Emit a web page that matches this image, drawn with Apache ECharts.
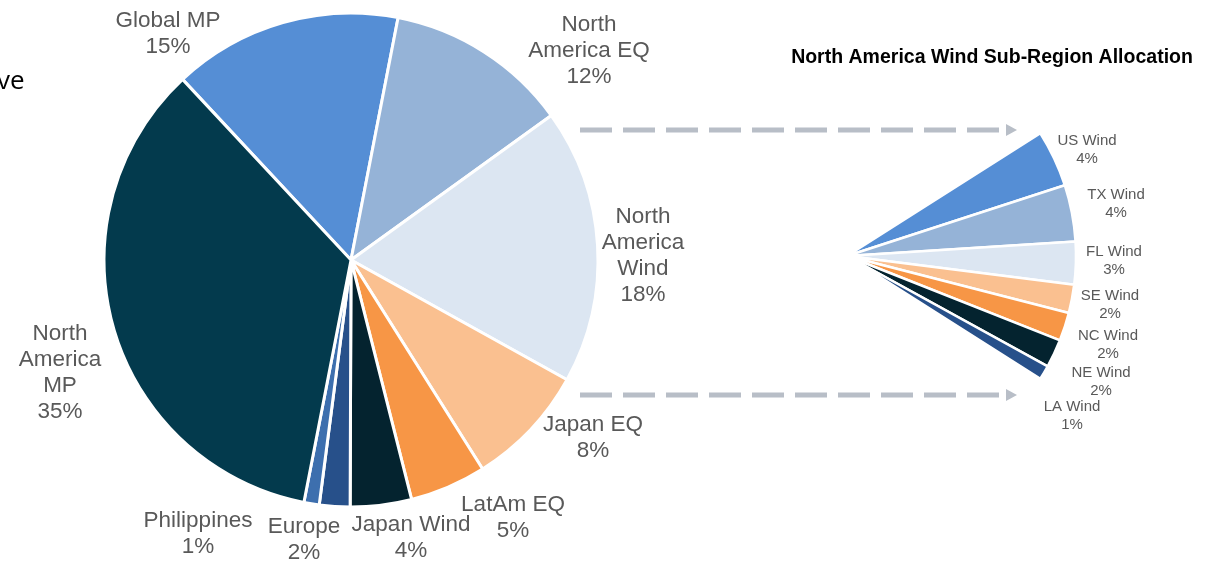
<!DOCTYPE html>
<html>
<head>
<meta charset="utf-8">
<title>Portfolio Allocation</title>
<script src="https://cdn.jsdelivr.net/npm/echarts@6/dist/echarts.min.js"></script>
<style>
  html, body { margin: 0; padding: 0; background: #ffffff; }
  #chart { width: 1216px; height: 561px; }
</style>
</head>
<body>
<div id="chart"></div>
<script>
// Portfolio allocation by region/strategy (percent), clockwise from the top-left
const regionNames = [
  'Global MP',
  'North\nAmerica EQ',
  'North\nAmerica\nWind',
  'Japan EQ',
  'LatAm EQ',
  'Japan Wind',
  'Europe',
  'Philippines',
  'North\nAmerica\nMP'
];
const regionValues = [15, 12, 18, 8, 5, 4, 2, 1, 35];
const regionColors = ['#558ed5', '#95b3d7', '#dce6f2', '#fac090', '#f79646', '#04232f', '#27508a', '#3d6fae', '#033a4d'];

// North America Wind broken down by sub-region (percent of total portfolio)
const windNames = ['US Wind', 'TX Wind', 'FL Wind', 'SE Wind', 'NC Wind', 'NE Wind', 'LA Wind'];
const windValues = [4, 4, 3, 2, 2, 2, 1];
const windColors = ['#558ed5', '#95b3d7', '#dce6f2', '#fac090', '#f79646', '#04232f', '#27508a'];

const subTitle = 'North America Wind Sub-Region Allocation';

// Label anchor points (text block centres, px) keeping labels clear of each other
const regionLabelAt = [[168, 34], [589, 51], [643, 256], [593, 438], [513, 518], [411, 538], [304, 540], [198, 534], [60, 373]];
const windLabelAt = [[1087, 150], [1116, 204], [1114, 261], [1110, 305], [1108, 345], [1101, 382], [1072, 416]];

const labelGrey = '#595959';
const arrowGrey = '#b8bec7';

// Remaining share of the sub-region ring is left blank so only the wind wedge shows
const windTotal = windValues.reduce((a, b) => a + b, 0);
const windData = windNames.map((n, i) => ({ name: n, value: windValues[i], itemStyle: { color: windColors[i] } }));
windData.push({
  name: 'rest',
  value: 100 - windTotal,
  itemStyle: { color: 'rgba(0,0,0,0)', borderWidth: 0 },
  label: { show: false },
  emphasis: { disabled: true },
  silent: true
});

const chart = echarts.init(document.getElementById('chart'), null, { renderer: 'canvas' });

function dashedArrow(y) {
  return [
    {
      type: 'line',
      shape: { x1: 580, y1: y, x2: 1003, y2: y },
      style: { stroke: arrowGrey, lineWidth: 5, lineDash: [32, 11] },
      silent: true
    },
    {
      type: 'polygon',
      shape: { points: [[1006, y - 6], [1017, y], [1006, y + 6]] },
      style: { fill: arrowGrey },
      silent: true
    }
  ];
}

chart.setOption({
  animation: false,
  backgroundColor: '#ffffff',
  title: {
    text: subTitle,
    left: 987,
    top: 43,
    textAlign: 'center',
    textStyle: { fontFamily: 'Liberation Sans, Arial, sans-serif', fontWeight: 'bold', fontSize: 19.5, color: '#000000' }
  },
  graphic: [
    {
      type: 'text',
      left: -3,
      top: 69,
      style: { text: 've', font: '26px "Open Sans", sans-serif', fill: '#000000' },
      silent: true
    },
    ...dashedArrow(130),
    ...dashedArrow(395)
  ],
  series: [
    {
      type: 'pie',
      center: [351, 260],
      radius: 247,
      startAngle: 133,
      clockwise: true,
      avoidLabelOverlap: false,
      emphasis: { scale: false },
      itemStyle: { borderColor: '#ffffff', borderWidth: 3 },
      label: {
        show: true,
        position: 'outside',
        fontFamily: 'Liberation Sans, Arial, sans-serif',
        fontSize: 22.5,
        lineHeight: 26,
        color: labelGrey,
        align: 'center',
        formatter: p => p.name + '\n' + p.value + '%'
      },
      labelLine: { show: false },
      labelLayout: p => ({
        x: regionLabelAt[p.dataIndex][0],
        y: regionLabelAt[p.dataIndex][1],
        align: 'center',
        verticalAlign: 'middle'
      }),
      data: regionNames.map((n, i) => ({ name: n, value: regionValues[i], itemStyle: { color: regionColors[i] } }))
    },
    {
      type: 'pie',
      center: [847, 256],
      radius: 229,
      startAngle: windTotal * 1.8,
      clockwise: true,
      avoidLabelOverlap: false,
      emphasis: { scale: false },
      itemStyle: { borderColor: '#ffffff', borderWidth: 2.5 },
      label: {
        show: true,
        position: 'outside',
        fontFamily: 'Liberation Sans, Arial, sans-serif',
        fontSize: 15,
        lineHeight: 18,
        color: labelGrey,
        align: 'center',
        formatter: p => p.name + '\n' + p.value + '%'
      },
      labelLine: { show: false },
      labelLayout: p => p.dataIndex < windLabelAt.length ? {
        x: windLabelAt[p.dataIndex][0],
        y: windLabelAt[p.dataIndex][1],
        align: 'center',
        verticalAlign: 'middle'
      } : {},
      data: windData
    }
  ]
});
</script>
</body>
</html>
